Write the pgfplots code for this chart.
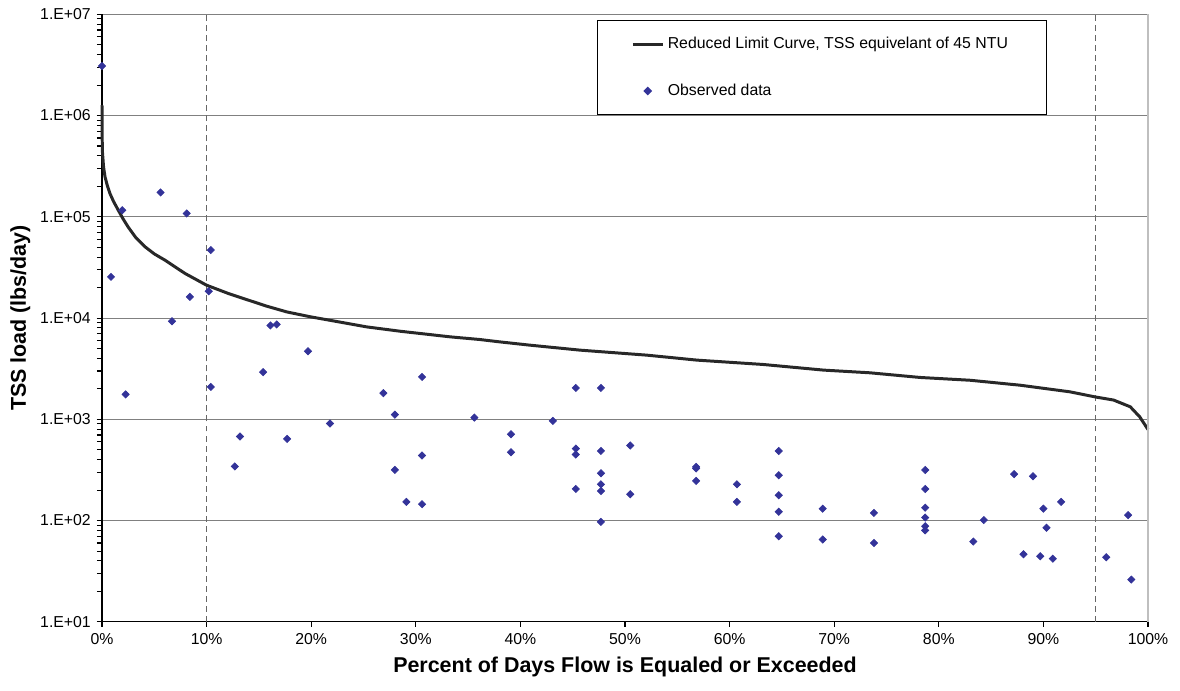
\documentclass[border=0pt]{standalone}
\usepackage{fontspec}
\setmainfont{Liberation Sans}
\usepackage{pgfplots}
\pgfplotsset{compat=1.18}
\definecolor{obsblue}{RGB}{51,51,153}
\definecolor{curvegray}{RGB}{40,40,40}
\definecolor{gridgray}{RGB}{128,128,128}

\begin{document}
\begin{tikzpicture}
\begin{axis}[
  scale only axis,
  width=20.92cm, height=12.15cm,
  ymode=log,
  xmin=0, xmax=100, ymin=10, ymax=1e7,
  xtick={0,10,20,30,40,50,60,70,80,90,100},
  xticklabels={0\%,10\%,20\%,30\%,40\%,50\%,60\%,70\%,80\%,90\%,100\%},
  ytick={1e1,1e2,1e3,1e4,1e5,1e6,1e7},
  yticklabels={1.E+01,1.E+02,1.E+03,1.E+04,1.E+05,1.E+06,1.E+07},
  axis x line=bottom, axis y line=left,
  axis line style={-, black, line width=0.6pt},
  tick align=outside,
  major tick length=0.1cm,
  minor tick num=0,
  tick style={black, line width=0.6pt},
  ymajorgrids,
  grid style={gridgray, line width=0.6pt},
  ticklabel style={font=\fontsize{9}{11}\selectfont},
  xlabel={Percent of Days Flow is Equaled or Exceeded},
  ylabel={TSS load (lbs/day)},
  every axis x label/.style={at={(axis description cs:0.5,-0.074)}, anchor=center,
    font=\fontsize{12.2}{14}\selectfont\bfseries},
  every axis y label/.style={at={(axis description cs:-0.078,0.5)}, anchor=center, rotate=90,
    font=\fontsize{12.2}{14}\selectfont\bfseries},
  legend style={at={(axis description cs:0.473,0.991)}, anchor=north west,
    draw=black, line width=0.6pt, font=\fontsize{9}{11}\selectfont,
    inner xsep=0.68cm, inner ysep=0.266cm, row sep=0.514cm},
  legend cell align=left,
  clip=false,
]
% dashed reference lines at 10% and 95%
\addplot[gray!80!black, line width=0.6pt, dash pattern=on 3.4pt off 2.3pt, forget plot]
  coordinates {(10,10) (10,1e7)};
\addplot[gray!80!black, line width=0.6pt, dash pattern=on 3.4pt off 2.3pt, forget plot]
  coordinates {(95,10) (95,1e7)};

% reduced limit curve
\addplot[curvegray, line width=1.7pt, no marks] coordinates {
  (0,1.27e6) (0.03,4.56e5) (0.15,3.10e5) (0.29,2.48e5) (0.5,2.05e5)
  (0.76,1.70e5) (1.1,1.42e5) (1.56,1.16e5) (2.0,9.60e4) (2.51,7.90e4)
  (3.2,6.30e4) (4.11,5.06e4) (5.0,4.30e4) (6.02,3.73e4) (7.93,2.76e4)
  (10.0,2.11e4) (12.07,1.75e4) (13.6,1.55e4) (15.75,1.31e4) (17.66,1.15e4)
  (19.9,1.03e4) (22.1,9380) (25.3,8180) (28.5,7410) (33.3,6520)
  (36.1,6140) (38.0,5820) (40.9,5400) (45.7,4820) (52.1,4300)
  (56.9,3840) (63.2,3480) (69.0,3060) (73.4,2880) (78.2,2590)
  (83.0,2430) (87.8,2170) (92.5,1870) (95.0,1660) (96.7,1550)
  (98.3,1330) (99.2,1060) (100,793)
};
\addlegendentry{\makebox[6.82cm][l]{Reduced Limit Curve, TSS equivelant of 45 NTU}}

% observed data
\addplot[only marks, mark=square*, mark size=1.45pt,
  mark options={rotate=45, fill=obsblue, draw=obsblue}, color=obsblue] coordinates {
  (0,3.08e6) (0.86,2.55e4) (1.94,1.16e5) (2.26,1760) (5.6,1.74e5)
  (6.7,9300) (8.1,1.08e5) (8.4,1.62e4) (10.2,1.84e4) (10.4,4.69e4)
  (10.4,2090) (12.7,342) (13.2,676) (15.4,2920) (16.1,8450)
  (16.7,8650) (17.7,640) (19.7,4700) (21.8,908) (26.9,1810)
  (28.0,1110) (28.0,316) (29.1,153) (30.6,2620) (30.6,439)
  (30.6,145) (35.6,1040) (39.1,713) (39.1,473) (43.1,964)
  (45.3,2040) (45.3,514) (45.3,449) (45.3,205) (47.7,2040)
  (47.7,487) (47.7,293) (47.7,228) (47.7,196) (47.7,97)
  (50.5,551) (50.5,182) (56.8,339) (56.8,327) (56.8,246)
  (60.7,228) (60.7,153) (64.7,487) (64.7,280) (64.7,178)
  (64.7,122) (64.7,70) (68.9,131) (68.9,65) (73.8,119)
  (73.8,60) (78.7,316) (78.7,205) (78.7,134) (78.7,107)
  (78.7,88) (78.7,80) (83.3,62) (84.3,101) (87.2,287)
  (88.1,46.5) (89.0,274) (89.7,44.4) (90.0,131) (90.3,85)
  (90.9,42) (91.7,153) (96.0,43.4) (98.1,113) (98.4,26.1)
};
\addlegendentry{Observed data}

% light right border of the plot area
\draw[gray!50, line width=0.6pt] (rel axis cs:1,0) -- (rel axis cs:1,1);
\end{axis}
\path ([xshift=-2.04cm,yshift=-1.366cm]current axis.south west)
  rectangle ([xshift=0.64cm,yshift=0.286cm]current axis.north east);
\end{tikzpicture}
\end{document}
